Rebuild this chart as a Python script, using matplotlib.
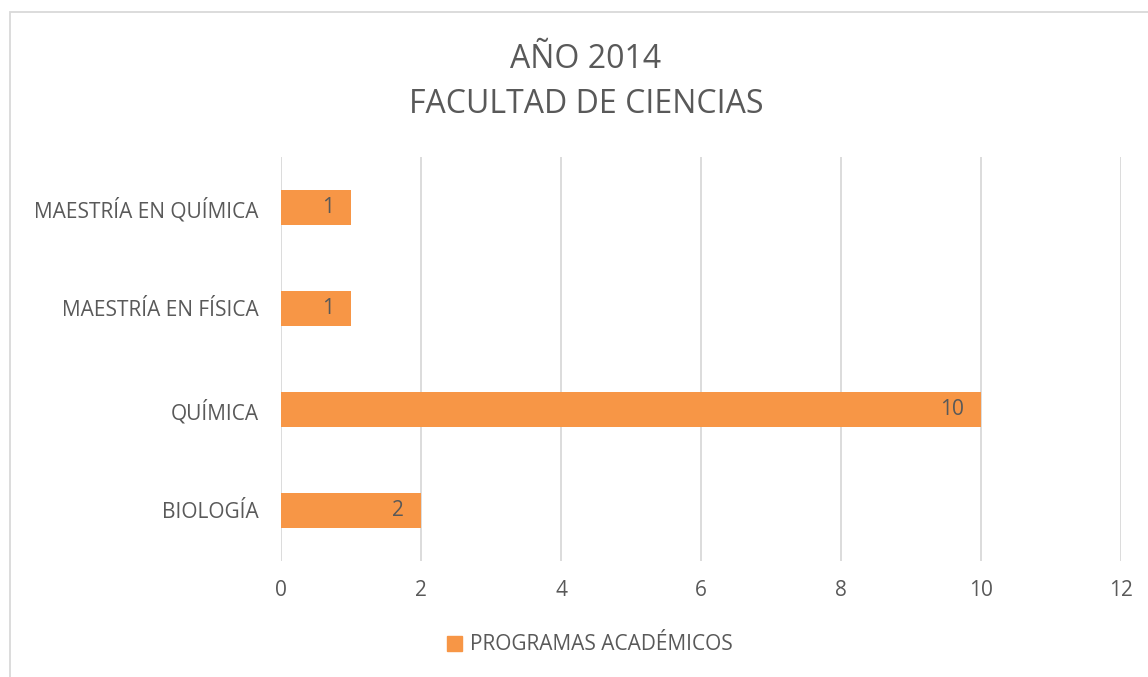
import matplotlib
matplotlib.use("Agg")
import matplotlib.pyplot as plt
from matplotlib.patches import Rectangle, Patch

categories = ["BIOLOGÍA", "QUÍMICA", "MAESTRÍA EN FÍSICA", "MAESTRÍA EN QUÍMICA"]
values = [2, 10, 1, 1]
xticks = [0, 2, 4, 6, 8, 10, 12]
series_name = "PROGRAMAS ACADÉMICOS"
title = "AÑO 2014\nFACULTAD DE CIENCIAS"

plt.rcParams['font.family'] = ['Open Sans', 'DejaVu Sans']
TXT = "#595959"
BAR = "#F79646"
GRID = "#D9D9D9"
FS = 15

W, H = 1148, 677
fig = plt.figure(figsize=(W/100, H/100), dpi=100)
fig.patches.append(Rectangle((10/W, 0 - 0.01), 1.2, 1 - 12/H + 0.01, transform=fig.transFigure,
                             fill=False, edgecolor=GRID, linewidth=1.3, zorder=0))

ax = fig.add_axes([281/W, 1 - 561/H, (1121-281)/W, (561-157)/H])
ypos = list(range(len(categories)))
bars = ax.barh(ypos, values, height=0.355, color=BAR, zorder=3)
ax.set_ylim(-0.5, len(categories) - 0.5)
ax.set_xlim(0, 12)
ax.set_xticks(xticks)
ax.set_yticks(ypos)
ax.set_yticklabels(categories)
ax.tick_params(axis='both', length=0, colors=TXT, labelsize=FS)
ax.tick_params(axis='y', pad=16)
ax.tick_params(axis='x', pad=14)
for s in ax.spines.values():
    s.set_visible(False)
ax.grid(axis='x', color=GRID, linewidth=1.3, zorder=0)
ax.set_axisbelow(True)

for y, v in zip(ypos, values):
    ax.annotate(str(v), xy=(v, y), xytext=(-12, 0), textcoords='offset points',
                ha='right', va='center', color=TXT, fontsize=FS, zorder=4)

fig.text(586/W, 1 - 82/H, title, ha='center', va='center', fontsize=23,
         color=TXT, linespacing=1.5)

leg = fig.legend([Patch(color=BAR)], [series_name], loc='center',
                 bbox_to_anchor=(590/W, 1 - 645/H), frameon=False,
                 fontsize=FS, handlelength=0.7, handleheight=0.7, handletextpad=0.4)
for t in leg.get_texts():
    t.set_color(TXT)

fig.savefig("out.png", dpi=100, facecolor="white")
